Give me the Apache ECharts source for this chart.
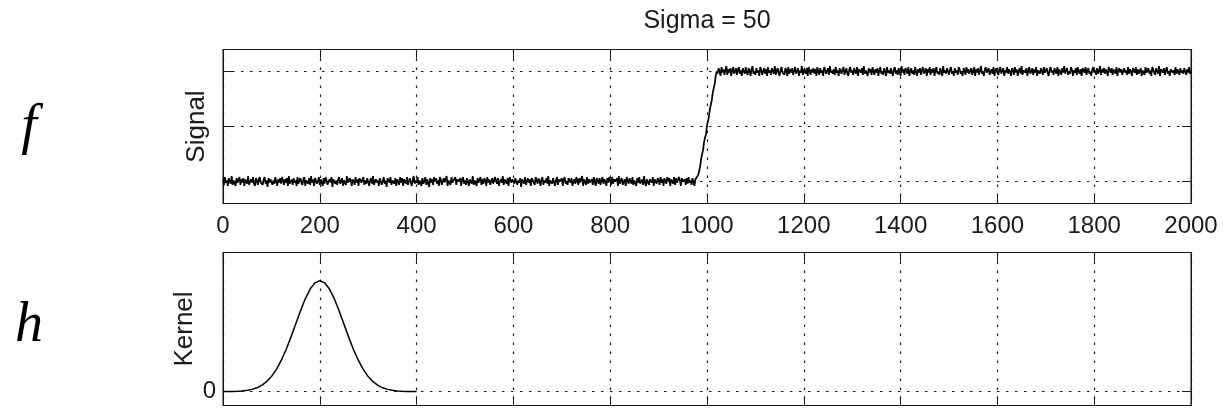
<!DOCTYPE html>
<html>
<head>
<meta charset="utf-8">
<script src="https://cdn.jsdelivr.net/npm/echarts@6/dist/echarts.min.js"></script>
<style>
html,body{margin:0;padding:0;background:#fff;}
#chart{width:1224px;height:409px;}
</style>
</head>
<body>
<div id="chart"></div>
<script>
// ---------- DATA ----------
const titleText = 'Sigma = 50';
const xTicks = [0, 200, 400, 600, 800, 1000, 1200, 1400, 1600, 1800, 2000];
const signalYTicks = [0, 0.5, 1];
const kernelYTicks = [0];
const signalSampleStep = 2; // signal samples every 2 units, x = 0..2000
const signalLow = [
.02,-.03,.04,-.01,.01,-.04,.03,.00,-.02,.05,-.03,.01,.02,-.04,.03,-.01,.00,.04,-.03,.02,
-.01,.03,-.04,.02,.01,-.02,.05,-.03,.00,.02,-.01,.04,-.02,-.04,.03,.01,-.03,.02,.04,-.01,
.00,-.03,.02,.04,-.02,.01,-.05,.03,-.01,.02,.03,-.03,.01,-.02,.04,.00,-.04,.02,-.01,.03,
-.02,.04,.01,-.03,.02,-.01,.03,-.04,.05,-.02,.00,.02,-.03,.03,-.01,.01,-.04,.04,-.02,.01,
.03,-.01,-.03,.02,.04,-.04,.01,.00,-.02,.03,-.03,.05,-.01,.02,-.04,.03,.01,-.02,.00,.04,
-.03,.02,.01,-.04,.03,-.02,.04,.01,-.03,.00,.02,-.01,.04,-.05,.02,.03,-.02,.01,-.03,.02,
.04,-.02,.00,.03,-.04,.01,.02,-.03,.05,-.01,-.02,.03,.01,-.04,.02,.00,-.03,.04,-.01,.02,
-.04,.03,.02,-.01,.00,.04,-.03,.01,-.02,.03,.02,-.04,.01,.03,-.02,.05,-.03,.00,.02,-.01,
.01,-.04,.03,.02,-.03,.00,.04,-.02,.01,-.05,.03,.02,-.01,.04,-.03,.01,.00,-.02,.03,-.04,
.02,.00,-.03,.04,-.01,.03,-.04,.02,.01,-.02,.04,-.03,.00,.03,-.01,-.04,.02,.05,-.02,.01,
-.01,.04,-.03,.01,.02,-.04,.03,-.02,.00,.04,-.03,.02,.01,-.05,.03,-.01,.02,-.03,.04,.00,
.03,-.02,.01,-.04,.04,.02,-.03,.00,.03,-.01,-.02,.05,-.04,.01,.02,-.03,.04,-.01,.00,-.02,
.04,-.03,.02,.00,-.01,.03,-.04,.02,.04,-.02,.01,-.03,.03,.00,-.04,.02,.01,-.02,.05,-.03,
.01,.02,-.04,.03,-.01,.00,.04,-.03,.02,-.02,.03,.01,-.04,.04,-.01,.02,-.03,.00,.03,-.02,
-.03,.04,.01,-.02,.03,-.04,.00,.02,-.01,.05,-.03,.02,.00,-.02,.03,-.04,.04,.01,-.01,.02,
.00,-.02,.03,.04,-.03,.01,-.01,.03,-.05,.02,.01,-.02,.04,-.03,.00,.03,-.01,.02,-.04,.03,
.02,-.01,-.03,.04,.01,-.02,.03,.00,-.04,.02,.04,-.03,.01,-.01,.03,-.02,.05,-.04,.01,.00,
-.02,.03,.02,-.04,.01,.04,-.03,.02,.00,-.01,.03,-.04,.02,.04,-.02,.00,-.03,.03,.01,-.01,
.03,-.04,.00,.02,-.02,.04,.01,-.03,.03,-.01,.00,.05,-.04,.02,.01,-.03,.04,-.02,.02,-.01,
-.01,.02,-.03,.04,.00,-.04,.03,.01,-.02,.03,-.03,.01,.04,-.02,.02,.00,-.04,.03,-.01,.04,
.01,-.03,.04,-.02,.02,.00,-.01,.03,-.04,.05,-.02,.01,.03,-.03,.00,.02,-.04,.04,.01,-.02,
.03,.00,-.02,.04,-.03,.01,.02,-.04,.03,-.01,.04,-.02,.00,.02,-.03,.05,-.01,-.04,.02,.03,
-.03,.02,.01,-.01,.04,-.04,.02,.00,-.02,.03,.01,-.03,.04,-.01,.02,-.04,.03,.00,-.02,.04,
.00,.03,-.04,.02,.01,-.02,.04,-.03,.03,-.01,-.02,.04,.01,-.04,.03,.00,-.01,.02,-.03,.03,
-.02,.04,-.01,.01,-.03,.03,.00,-.04,.02,.01
];
const signalRamp = [.01,.06,.10,.14,.21,.25,.29,.36,.40,.43,.51,.55,.59,.66,.70,.74,.81,.85,.89,.96,1.00];
const signalHigh = [
.98,1.03,1.00,.96,1.04,.99,1.02,.97,1.01,1.05,.97,1.02,.99,1.03,.96,1.01,1.04,.98,1.00,1.03,
.97,1.02,1.04,.98,1.01,.96,1.03,1.00,.98,1.04,.99,.97,1.03,1.01,.96,1.02,1.05,.98,1.00,.97,
1.03,.99,1.01,.96,1.04,1.02,.97,1.00,1.03,.98,1.02,.96,1.04,.99,1.01,.97,1.03,1.00,.98,1.05,
.97,1.01,1.03,.98,.96,1.02,1.04,.99,1.00,.97,1.03,1.01,.96,1.04,.98,1.02,.99,1.03,.97,1.01,
1.04,.98,1.00,1.03,.96,1.01,.99,1.05,.97,1.02,1.00,.98,1.03,.96,1.04,1.01,.97,1.02,.99,1.03,
.98,1.02,.96,1.04,1.00,.97,1.03,.99,1.01,.96,1.04,1.02,.98,1.00,1.03,.97,1.05,.99,1.01,.98,
1.02,.97,1.04,.99,1.01,.96,1.03,1.00,.98,1.02,1.04,.97,1.00,1.03,.98,.96,1.02,1.04,.99,1.01,
.97,1.03,1.00,.98,1.04,.96,1.02,1.01,.99,1.03,.97,1.05,.98,1.01,1.00,.96,1.03,.99,1.02,.97,
1.04,1.00,.97,1.02,.99,1.03,.96,1.01,1.04,.98,1.00,.97,1.03,1.02,.96,1.04,.99,1.01,.98,1.03,
.99,.96,1.02,1.04,.98,1.01,.97,1.03,1.00,.96,1.05,.99,1.02,.97,1.03,1.01,.98,1.04,.96,1.00,
1.03,.98,1.01,.97,1.04,1.00,.96,1.02,.99,1.03,.97,1.01,1.04,.98,1.00,1.03,.96,1.02,.99,1.04,
.97,1.02,.99,1.03,.96,1.01,1.04,.98,1.00,.97,1.03,1.02,.96,1.05,.99,1.01,.98,1.03,1.00,.97,
1.02,1.04,.98,1.00,.96,1.03,.99,1.01,.97,1.04,1.02,.98,1.00,.96,1.03,1.01,.97,1.04,.99,1.02,
.98,1.01,1.03,.97,1.00,1.04,.96,1.02,.99,1.03,.97,1.01,1.05,.98,1.00,.96,1.02,1.04,.99,1.01,
1.03,.97,1.00,1.02,.98,1.04,.96,1.01,1.03,.99,.97,1.02,1.04,.98,1.00,1.03,.96,1.01,.99,1.04,
.98,1.02,1.00,.96,1.03,1.01,.97,1.04,.99,1.02,.96,1.00,1.03,.98,1.05,.97,1.01,1.02,.99,1.03,
.96,1.01,1.04,.98,1.00,1.03,.97,1.02,.99,1.04,.96,1.01,1.00,.98,1.03,1.02,.97,1.04,.99,1.00,
1.03,.98,.96,1.02,1.04,.99,1.01,.97,1.03,1.00,.98,1.04,.96,1.02,1.01,.97,1.03,.99,1.05,.98,
1.01,1.03,.97,1.00,.98,1.04,1.02,.96,1.01,.99,1.03,.97,1.04,1.00,.98,1.02,.96,1.03,1.01,.99,
1.04,.97,1.01,1.03,.98,1.00,.96,1.02,1.04,.99,1.01,.97,1.03,.98,1.00,1.05,.97,1.02,.99,1.03,
.98,1.02,1.00,.96,1.04,1.01,.99,1.03,.97,1.02,1.00,.98,1.04,.96,1.01,1.03,.99,1.02,.97,1.00,
1.03,.99,1.01,.97,1.04,.98,1.02,1.00,.96,1.03,1.01,.99,1.04,.97,1.02,.98,1.00,1.03,.96,1.01,
1.02,.97,1.04,.99,1.00,1.03,.98,1.01,.96,1.04,1.02,.99,.97,1.03,1.00,.98,1.05,.96,1.02,1.01,
.99,1.03,.97,1.01,1.04,.98,1.00,.96,1.02,1.03,.99,1.01,.97,1.04,.98,1.02,1.00,.97,1.03,.99,
1.01,.98,1.03,1.00,.97,1.02,.99,1.04,.98,1.01
];
const kernelSampleStep = 10; // kernel samples every 10 units, x = 0..400
const kernel = [
0,.00001,.00001,.00002,.00005,.00009,.00016,.00027,.00045,.00071,
.00108,.00158,.00222,.00299,.00388,.00484,.00579,.00667,.00737,.00782,
.00798,
.00782,.00737,.00667,.00579,.00484,.00388,.00299,.00222,.00158,.00108,
.00071,.00045,.00027,.00016,.00009,.00005,.00002,.00001,.00001,0
];

// ---------- BUILD ----------
const signalValues = signalLow.concat(signalRamp, signalHigh);
const signalData = signalValues.map((v, i) => [i * signalSampleStep, v]);
const kernelData = kernel.map((v, i) => [i * kernelSampleStep, v]);

const FONT = 'Liberation Sans, Arial, Helvetica, sans-serif';
const INK = '#1a1a1a';
const dotted = { color: '#1a1a1a', width: 1.2, type: [2.5, 6.5] };

function xAxisPair(gridIndex, showLabels) {
  const base = {
    type: 'value', gridIndex: gridIndex, min: 0, max: 2000, interval: 200,
    axisLine: { show: true, onZero: false, lineStyle: { color: INK, width: 1 } },
    axisTick: { show: true, inside: true, length: 9, customValues: xTicks, lineStyle: { color: INK, width: 1 } }
  };
  return [
    Object.assign({}, base, {
      position: 'bottom',
      axisLabel: { show: showLabels, customValues: xTicks, fontSize: 24, fontFamily: FONT, color: INK, margin: 11,
                   formatter: v => String(v) },
      splitLine: { show: true, lineStyle: dotted }
    }),
    Object.assign({}, base, {
      position: 'top',
      axisLabel: { show: false },
      splitLine: { show: false }
    })
  ];
}

function yAxisPair(gridIndex, min, max, ticks, name, nameGap, showLabels) {
  const base = {
    type: 'value', gridIndex: gridIndex, min: min, max: max,
    axisLine: { show: true, onZero: false, lineStyle: { color: INK, width: 1 } },
    axisTick: { show: true, inside: true, length: 9, customValues: ticks, lineStyle: { color: INK, width: 1 } }
  };
  return [
    Object.assign({}, base, {
      position: 'left',
      name: name, nameLocation: 'middle', nameRotate: 90, nameGap: nameGap, nameMoveOverlap: false,
      nameTextStyle: { fontSize: 26, fontFamily: FONT, color: INK },
      axisLabel: { show: showLabels, customValues: ticks, fontSize: 24, fontFamily: FONT, color: INK, margin: 7,
                   formatter: v => String(v) },
      splitLine: { show: true, lineStyle: dotted }
    }),
    Object.assign({}, base, {
      position: 'right',
      axisLabel: { show: false },
      splitLine: { show: false }
    })
  ];
}

const chart = echarts.init(document.getElementById('chart'), null, { renderer: 'canvas' });
const option = {
  animation: false,
  backgroundColor: '#fff',
  grid: [
    { left: 223, top: 49.5, width: 968, height: 154, show: true, borderColor: INK, borderWidth: 1, backgroundColor: '#fff' },
    { left: 223, top: 252.5, width: 968, height: 153, show: true, borderColor: INK, borderWidth: 1, backgroundColor: '#fff' }
  ],
  xAxis: [].concat(xAxisPair(0, true), xAxisPair(1, false)),
  yAxis: [].concat(
    yAxisPair(0, -0.2, 1.2, signalYTicks, 'Signal', 13, false),
    yAxisPair(1, -0.001, 0.01, kernelYTicks, 'Kernel', 25, true)
  ),
  graphic: [
    { type: 'text', x: 707, y: 21, style: { text: titleText, align: 'center', verticalAlign: 'middle',
      font: '25px ' + FONT, fill: INK } },
    { type: 'text', x: 29, y: 128, style: { text: 'f', align: 'center', verticalAlign: 'middle',
      font: 'italic 56px "Liberation Serif", "DejaVu Serif", serif', fill: '#000' } },
    { type: 'text', x: 29, y: 326, style: { text: 'h', align: 'center', verticalAlign: 'middle',
      font: 'italic 56px "Liberation Serif", "DejaVu Serif", serif', fill: '#000' } }
  ],
  series: [
    { type: 'line', xAxisIndex: 0, yAxisIndex: 0, data: signalData, showSymbol: false,
      lineStyle: { color: '#000', width: 1.7 }, silent: true },
    { type: 'line', xAxisIndex: 2, yAxisIndex: 2, data: kernelData, showSymbol: false, smooth: false,
      lineStyle: { color: '#000', width: 1.5 }, silent: true }
  ]
};
chart.setOption(option);
</script>
</body>
</html>
